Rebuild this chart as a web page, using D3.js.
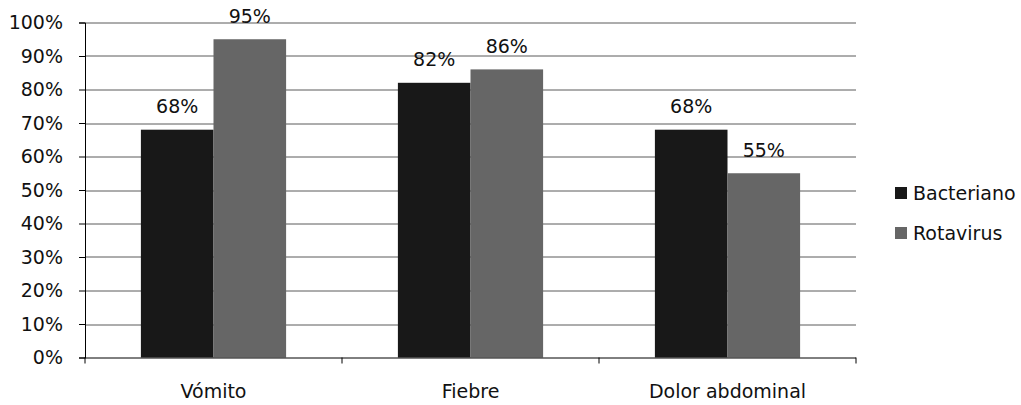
<!DOCTYPE html>
<html>
<head>
<meta charset="utf-8">
<script src="https://cdn.jsdelivr.net/npm/d3@7"></script>
<style>
  html, body { margin: 0; padding: 0; background: #fff; }
  svg text { font-family: "DejaVu Sans", sans-serif; fill: #111; }
</style>
</head>
<body>
<svg id="chart" width="1021" height="405"></svg>
<script>
// Symptom frequency by etiology
const categories = ["Vómito", "Fiebre", "Dolor abdominal"];
const seriesNames = ["Bacteriano", "Rotavirus"];
const bacteriano = [68, 82, 68];
const rotavirus = [95, 86, 55];
const yTicks = [0, 10, 20, 30, 40, 50, 60, 70, 80, 90, 100];
const colors = ["#181818", "#666666"];

const FS = 19;
const svg = d3.select("#chart");
const margin = { left: 85, right: 165, top: 22.5, bottom: 47.5 };
const W = 1021, H = 405;
const plotW = W - margin.left - margin.right;
const plotH = H - margin.top - margin.bottom;

const g = svg.append("g").attr("transform", `translate(${margin.left},${margin.top})`);

const x0 = d3.scaleBand().domain(categories).range([0, plotW]).paddingInner(0).paddingOuter(0);
const x1 = d3.scaleBand().domain(seriesNames).range([0, x0.bandwidth() * 0.565]);
const y = d3.scaleLinear().domain([0, 100]).range([plotH, 0]);

// horizontal gridlines
g.append("g").selectAll("line").data(yTicks.filter(d => d > 0)).join("line")
  .attr("x1", 0).attr("x2", plotW)
  .attr("y1", d => Math.round(y(d)) + 0.5).attr("y2", d => Math.round(y(d)) + 0.5)
  .attr("stroke", "#5a5a5a").attr("stroke-width", 1);

// bars
const data = categories.map((c, i) => ({ cat: c, vals: [bacteriano[i], rotavirus[i]] }));
const offset = (x0.bandwidth() - x1.range()[1]) / 2;
const groups = g.selectAll("g.cat").data(data).join("g")
  .attr("class", "cat")
  .attr("transform", d => `translate(${x0(d.cat) + offset},0)`);

groups.selectAll("rect").data(d => d.vals.map((v, k) => ({ s: seriesNames[k], v, k }))).join("rect")
  .attr("x", d => x1(d.s))
  .attr("y", d => y(d.v))
  .attr("width", x1.bandwidth())
  .attr("height", d => plotH - y(d.v))
  .attr("fill", d => colors[d.k]);

groups.selectAll("text.val").data(d => d.vals.map((v, k) => ({ s: seriesNames[k], v, k }))).join("text")
  .attr("class", "val")
  .attr("x", d => x1(d.s) + x1.bandwidth() / 2)
  .attr("y", d => y(d.v) - 16.5)
  .attr("text-anchor", "middle")
  .attr("font-size", FS)
  .text(d => d.v + "%");

// y axis
const yAxis = d3.axisLeft(y).tickValues(yTicks).tickFormat(d => d + "%").tickSize(6).tickPadding(16);
const ya = g.append("g").call(yAxis);
ya.select(".domain").attr("stroke", "#000");
ya.selectAll(".tick line").attr("stroke", "#000");
ya.selectAll("text").attr("font-size", FS).attr("font-family", "DejaVu Sans").attr("fill", "#111");

// x axis with ticks at category boundaries
const xa = g.append("g").attr("transform", `translate(0,${plotH})`);
xa.append("line").attr("x1", 0).attr("x2", plotW).attr("y1", 0.5).attr("y2", 0.5).attr("stroke", "#000");
const bounds = categories.map(c => x0(c)).concat([plotW]);
xa.selectAll("line.tk").data(bounds).join("line").attr("class", "tk")
  .attr("x1", d => d).attr("x2", d => d).attr("y1", 0).attr("y2", 6).attr("stroke", "#000");
xa.selectAll("text").data(categories).join("text")
  .attr("x", d => x0(d) + x0.bandwidth() / 2)
  .attr("y", 40.5)
  .attr("text-anchor", "middle")
  .attr("font-size", FS)
  .text(d => d);

// legend
const legend = svg.append("g").attr("transform", "translate(895,0)");
const ly = [193, 233];
seriesNames.forEach((s, k) => {
  legend.append("rect").attr("x", 0).attr("y", ly[k] - 6).attr("width", 12).attr("height", 12).attr("fill", colors[k]);
  legend.append("text").attr("x", 18).attr("y", ly[k]).attr("dy", "0.36em").attr("font-size", FS).text(s);
});
</script>
</body>
</html>
